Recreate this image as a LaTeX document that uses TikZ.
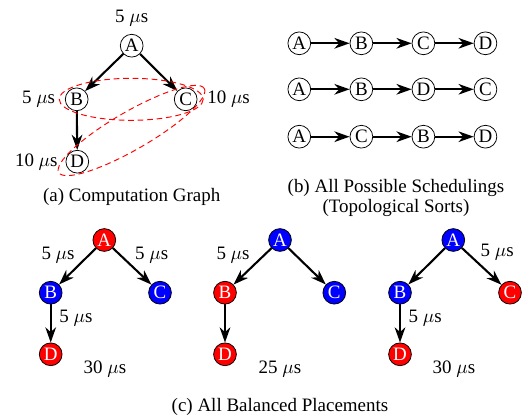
\documentclass[tikz,border=0pt]{standalone}
\usepackage{fontspec}
\setmainfont{Liberation Serif}
\usetikzlibrary{arrows.meta,positioning,calc}

\begin{document}
\begin{tikzpicture}[
    x=0.527pt,y=-0.527pt,
    task/.style={draw,circle,minimum size=12pt,inner sep=0pt,fill=white},
    redtask/.style={task,fill=red,text=white},
    bluetask/.style={task,fill=blue,text=white},
    lbl/.style={inner sep=1pt},
    cluster/.style={draw=red,dash pattern=on 3pt off 2pt,line width=0.5pt},
    dep/.style={->,line width=1.1pt},
    >={Stealth[length=8pt,width=5.6pt,inset=2.5pt]},
    node distance=20.3pt
  ]
    \useasboundingbox (0,0) rectangle (524,416);

    % (a) computation graph
    \node[task] (A) at (131.7,45.7) {A};
    \node[task] (B) at (76.7,99.3) {B};
    \node[task] (C) at (185.7,99.3) {C};
    \node[task] (D) at (77.3,161.7) {D};
    \node[lbl,above=3pt of A] (tA) {5 $\mu$s};
    \node[lbl,left=4pt of B] (tB) {5 $\mu$s};
    \node[lbl,right=4pt of C] (tC) {10 $\mu$s};
    \node[lbl,left=3pt of D] (tD) {10 $\mu$s};
    \draw[dep] (A) -- (B);
    \draw[dep] (A) -- (C);
    \draw[dep] (B) -- (D);
    \coordinate (cBC) at ($(B)!0.5!(C)$);
    \coordinate (cDC) at ($(D)!0.5!(C)$);
    \draw[cluster] (cBC) ellipse [x radius=72,y radius=21];
    \draw[cluster,rotate around={30:(cDC)}] (cDC) ellipse [x radius=84,y radius=19];
    \node (capa) at (131.7,197) {(a) Computation Graph};

    % (b) schedulings
    \node[task] (s1A) at (299.3,43.3) {A};
    \node[task,right=of s1A] (s1B) {B};
    \node[task,right=of s1B] (s1C) {C};
    \node[task,right=of s1C] (s1D) {D};
    \node[task] (s2A) at (299.3,89.3) {A};
    \node[task,right=of s2A] (s2B) {B};
    \node[task,right=of s2B] (s2D) {D};
    \node[task,right=of s2D] (s2C) {C};
    \node[task] (s3A) at (299.3,136.7) {A};
    \node[task,right=of s3A] (s3C) {C};
    \node[task,right=of s3C] (s3B) {B};
    \node[task,right=of s3B] (s3D) {D};
    \draw[dep] (s1A) -- (s1B);
    \draw[dep] (s1B) -- (s1C);
    \draw[dep] (s1C) -- (s1D);
    \draw[dep] (s2A) -- (s2B);
    \draw[dep] (s2B) -- (s2D);
    \draw[dep] (s2D) -- (s2C);
    \draw[dep] (s3A) -- (s3C);
    \draw[dep] (s3C) -- (s3B);
    \draw[dep] (s3B) -- (s3D);
    \node[align=center,font=\fontsize{10}{10.6}\selectfont] (capb) at (396,198.3) {(b) All Possible Schedulings\\(Topological Sorts)};

    % (c) placements
    \node[redtask] (A1) at (104.3,240) {A};
    \node[bluetask] (B1) at (50.7,292.7) {B};
    \node[bluetask] (C1) at (160,292.7) {C};
    \node[redtask] (D1) at (50.7,354.3) {D};
    \draw[dep] (A1) -- node[lbl,above left] (w1ab) {5 $\mu$s} (B1);
    \draw[dep] (A1) -- node[lbl,above right] (w1ac) {5 $\mu$s} (C1);
    \draw[dep] (B1) -- node[lbl,pos=0.35,right=3pt] (w1bd) {5 $\mu$s} (D1);
    \node (t1) at (105,369.3) {30 $\mu$s};

    \node[bluetask] (A2) at (280,240) {A};
    \node[redtask] (B2) at (225,292.7) {B};
    \node[bluetask] (C2) at (334.3,292.7) {C};
    \node[redtask] (D2) at (225,354.3) {D};
    \draw[dep] (A2) -- node[lbl,above left] (w2ab) {5 $\mu$s} (B2);
    \draw[dep] (A2) -- (C2);
    \draw[dep] (B2) -- (D2);
    \node (t2) at (280,369.3) {25 $\mu$s};

    \node[bluetask] (A3) at (453.3,240) {A};
    \node[bluetask] (B3) at (400,292.7) {B};
    \node[redtask] (C3) at (510,292.7) {C};
    \node[redtask] (D3) at (400,354.3) {D};
    \draw[dep] (A3) -- (B3);
    \draw[dep] (A3) -- node[lbl,pos=0.4,above right] (w3ac) {5 $\mu$s} (C3);
    \draw[dep] (B3) -- node[lbl,pos=0.35,right=3pt] (w3bd) {5 $\mu$s} (D3);
    \node (t3) at (454,369.3) {30 $\mu$s};

    \node (capc) at (280,406.7) {(c) All Balanced Placements};
  \end{tikzpicture}
\end{document}
